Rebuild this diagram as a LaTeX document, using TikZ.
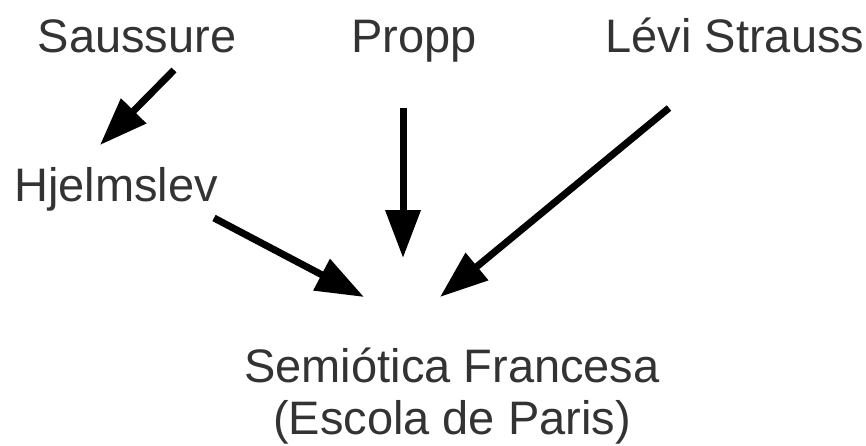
\documentclass[tikz,border=0pt]{standalone}
\usepackage{fontspec}
\setmainfont{Liberation Sans}
\usetikzlibrary{arrows.meta}

\tikzset{
  autor/.style={font=\fontsize{47}{55}\selectfont, inner sep=0pt, anchor=base, text=black!80},
  seta/.style={line width=7pt, -{Triangle[width=34pt,length=48pt]}}
}

\begin{document}
\begin{tikzpicture}[x=1pt,y=-1pt]
\useasboundingbox (0,0) rectangle (866,445);
\node[autor] (saussure) at (137,52) {Saussure};
\node[autor] (propp) at (414,52) {Propp};
\node[autor] (levi) at (735,52) {Lévi Strauss};
\node[autor] (hjelmslev) at (116,201) {Hjelmslev};
\node[autor] (semiotica) at (452,382) {Semiótica Francesa};
\node[autor] (escola) at (452,434) {(Escola de Paris)};
% pontas das setas
\coordinate (s1) at (174,70);
\coordinate (t1) at (100,145);
\coordinate (s2) at (403,108);
\coordinate (t2) at (403,258);
\coordinate (s3) at (214,218);
\coordinate (t3) at (364,297);
\coordinate (s4) at (669,108);
\coordinate (t4) at (440,297);
\draw[seta] (s1) -- (t1);
\draw[seta] (s2) -- (t2);
\draw[seta] (s3) -- (t3);
\draw[seta] (s4) -- (t4);
\end{tikzpicture}
\end{document}
